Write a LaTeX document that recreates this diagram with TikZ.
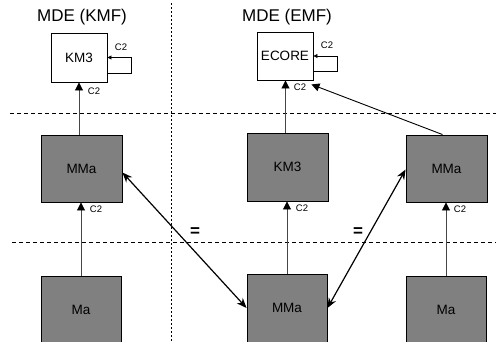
\documentclass[tikz,border=0pt]{standalone}
\usepackage{fontspec}
\setmainfont{Liberation Sans}
\usetikzlibrary{arrows.meta}
\definecolor{boxgray}{RGB}{128,128,128}
\definecolor{linegray}{RGB}{70,70,70}
\begin{document}
\begin{tikzpicture}[x=1pt,y=-1pt,
  whitebox/.style={draw=black,line width=0.9pt,fill=white,minimum width=56pt,minimum height=49pt,inner sep=0pt,font=\fontsize{13.5}{15}\selectfont},
  graybox/.style={draw=black,line width=0.9pt,fill=boxgray,minimum width=81pt,minimum height=68pt,inner sep=0pt,font=\fontsize{13.5}{15}\selectfont},
  conf/.style={draw=linegray,line width=0.9pt,-{Triangle[length=8pt,width=8pt,color=black]}},
  loopline/.style={draw=black,line width=0.8pt,-{Triangle[length=4pt,width=4pt]}},
  eqarrow/.style={draw=black,line width=1.2pt,{Stealth[length=10pt,width=8pt]}-{Stealth[length=10pt,width=8pt]}},
  sep/.style={line width=0.8pt,dash pattern=on 4pt off 3pt},
  vsep/.style={line width=0.9pt,dash pattern=on 2pt off 2pt},
  ctwo/.style={font=\fontsize{9.5}{10}\selectfont,inner sep=0pt},
  title/.style={font=\fontsize{17}{19}\selectfont,inner sep=0pt},
  eq/.style={font=\fontsize{17}{18}\selectfont\bfseries,inner sep=0pt}]
\useasboundingbox (0,0) rectangle (496,341);
\clip (0,0) rectangle (496,341);
\fill[white] (0,0) rectangle (496,341);
% separators
\draw[sep] (10,113) -- (496,113);
\draw[sep] (12,242) -- (496,242);
\draw[vsep] (171,3) -- (171,341);
% titles
\node[title] (t1) at (82,17) {MDE (KMF)};
\node[title] (t2) at (287,17) {MDE (EMF)};
% boxes
\node[whitebox] (km3top) at (79,57.5) {KM3};
\node[whitebox,minimum height=48pt] (ecore) at (285,56) {ECORE};
\node[graybox,minimum height=67pt] (mmaL) at (81.5,168.5) {MMa};
\node[graybox] (km3M) at (287.5,167) {KM3};
\node[graybox,minimum height=67pt] (mmaR) at (446.5,168.5) {MMa};
\node[graybox,minimum width=80pt] (maL) at (81,310) {Ma};
\node[graybox,minimum width=80pt] (mmaM) at (287,308) {MMa};
\node[graybox,minimum width=80pt] (maR) at (446,310) {Ma};
% self loops
\draw[loopline] ([yshift=-16pt]km3top.east) -- ++(24,0) |- (km3top.east);
\draw[loopline] ([yshift=-15pt]ecore.east) -- ++(24,0) |- (ecore.east);
% conformance arrows
\draw[conf] (mmaL.north -| km3top.south) -- (km3top.south);
\draw[conf] (maL.north) -- (maL.north |- mmaL.south);
\draw[conf] ([xshift=-2pt]km3M.north) -- ([xshift=-2pt]km3M.north |- ecore.south);
\draw[conf] (mmaM.north) -- (mmaM.north |- km3M.south);
\draw[conf] (maR.north) -- (maR.north |- mmaR.south);
\draw[conf,draw=black] ([xshift=-4pt]mmaR.north) -- ([shift={(-2pt,-4pt)}]ecore.south east);
% equivalence arrows
\draw[eqarrow] ([yshift=-4pt]mmaL.east) -- (mmaM.west);
\draw[eqarrow] ([yshift=-1pt]mmaR.west) -- (mmaM.east);
% labels
\node[ctwo] (c1) at (121,47) {C2};
\node[ctwo] (c2) at (94,91) {C2};
\node[ctwo] (c3) at (96,209) {C2};
\node[ctwo] (c4) at (327,45) {C2};
\node[ctwo] (c5) at (300,87) {C2};
\node[ctwo] (c6) at (302,208) {C2};
\node[ctwo] (c7) at (460,209) {C2};
\node[eq] (e1) at (195,232) {=};
\node[eq] (e2) at (358,232) {=};
\end{tikzpicture}
\end{document}
